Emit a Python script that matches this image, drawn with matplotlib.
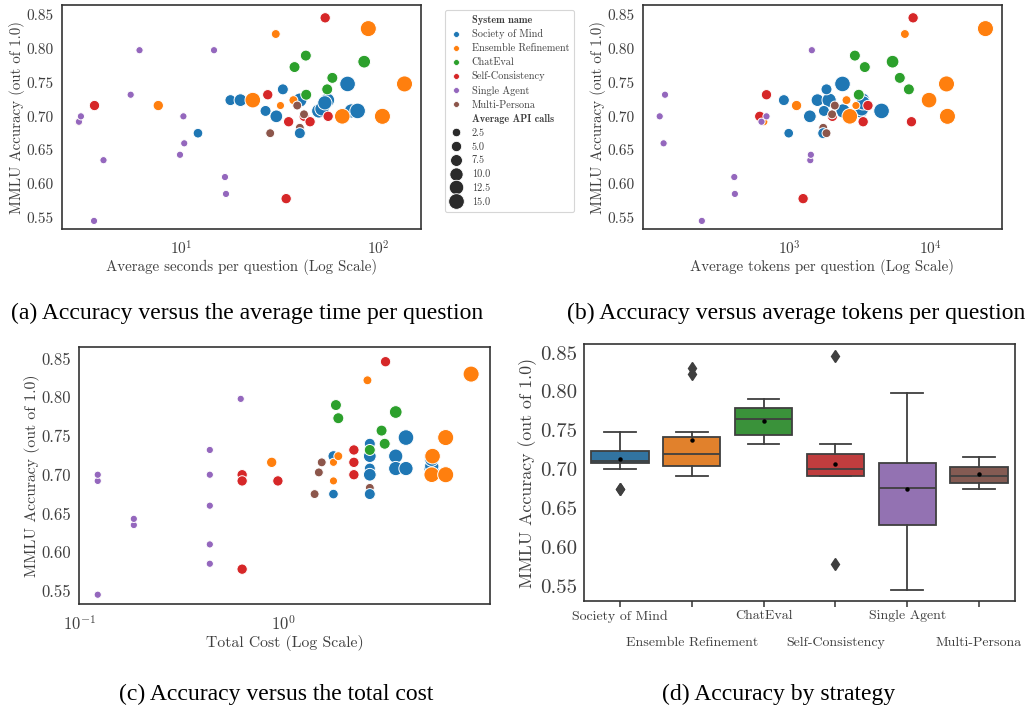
import colorsys
import matplotlib
matplotlib.use('Agg')
import matplotlib.pyplot as plt
import matplotlib.colors as mcolors
from matplotlib.lines import Line2D

SYSTEMS = ['Society of Mind', 'Ensemble Refinement', 'ChatEval',
           'Self-Consistency', 'Single Agent', 'Multi-Persona']
COLORS = ['#1f77b4', '#ff7f0e', '#2ca02c', '#d62728', '#9467bd', '#8c564b']

# one entry per run, drawn in this order
run_system = [5, 5,
              0, 0, 0, 0, 0, 0, 0, 0, 0, 0, 0, 0, 0, 0, 0,
              1, 1, 1, 1, 1, 1, 1, 1, 1, 1,
              2, 2, 2, 2, 2, 2,
              3, 3, 3, 3, 3, 3, 3, 3,
              4, 4, 4, 4, 4, 4, 4, 4, 4, 4, 4, 4,
              5, 5, 5]
run_acc = [0.691, 0.683,
           0.675, 0.675, 0.724, 0.724, 0.724, 0.724, 0.708, 0.708, 0.708, 0.708, 0.700, 0.740, 0.748, 0.711, 0.720,
           0.692, 0.716, 0.716, 0.724, 0.724, 0.822, 0.700, 0.700, 0.748, 0.830,
           0.773, 0.790, 0.732, 0.740, 0.757, 0.781,
           0.846, 0.578, 0.716, 0.732, 0.700, 0.700, 0.692, 0.692,
           0.692, 0.700, 0.798, 0.732, 0.545, 0.635, 0.700, 0.660, 0.643, 0.798, 0.610, 0.585,
           0.675, 0.703, 0.716]
run_secs = [35, 39.9,
            12.1, 39.9, 17.7, 19.9, 39.9, 55.2, 26.7, 49.8, 73, 78.5, 30.3, 32.7, 69.8, 51.7, 53.5,
            3.0, 7.6, 31.8, 37, 23, 30.1, 65.6, 105, 136, 89,
            37.5, 42.8, 43, 55, 58.4, 84.8,
            53.7, 34, 3.6, 27.4, 55.6, 42, 35, 45,
            3.0, 3.07, 6.1, 5.5, 3.58, 4.0, 10.2, 10.3, 9.8, 14.6, 16.6, 16.8,
            28.2, 41.9, 38.7]
run_tokens = [3330, 1740,
              993, 1740, 918, 1585, 1915, 3300, 1760, 2400, 3200, 4490, 1400, 1835, 2380, 3250, 3320,
              663, 1128, 2960, 2540, 9720, 6560, 2680, 13100, 12900, 24300,
              3420, 2910, 3100, 7000, 6040, 5370,
              7500, 1255, 3600, 692, 620, 2020, 3330, 7300,
              638, 692, 1446, 133, 242, 1410, 122, 130, 1423, 1446, 410, 414,
              1835, 2010, 2100]
run_cost = [0.63, 2.67,
            1.77, 2.67, 1.77, 2.67, 3.58, 5.38, 2.67, 3.58, 4.02, 5.38, 2.67, 2.67, 4.02, 5.38, 5.38,
            1.77, 0.88, 1.77, 1.87, 5.43, 2.6, 5.38, 6.3, 6.3, 8.4,
            1.87, 1.82, 2.67, 3.16, 3.05, 3.58,
            3.19, 0.63, 2.23, 2.23, 0.63, 2.23, 0.63, 0.944,
            0.123, 0.123, 0.62, 0.437, 0.123, 0.185, 0.437, 0.437, 0.185, 0.62, 0.437, 0.437,
            1.43, 1.5, 1.55]
run_calls = [3, 3,
             4, 6, 6, 9, 12, 12, 6, 12, 12, 15, 9, 6, 15, 12, 12,
             2, 5, 2, 3, 15, 3, 15, 16, 16, 16,
             6, 6, 6, 6, 6, 9,
             5, 5, 5, 5, 5, 5, 5, 5,
             1, 1, 1, 1, 1, 1, 1, 1, 1, 1, 1, 1,
             3, 3, 3]
size_legend = [2.5, 5.0, 7.5, 10.0, 12.5, 15.0]

TXT = '#3f3f3f'
plt.rcParams['font.family'] = ['cmr10', 'DejaVu Serif']
plt.rcParams['mathtext.fontset'] = 'cm'
plt.rcParams['axes.formatter.use_mathtext'] = True
plt.rcParams['text.color'] = TXT
plt.rcParams['axes.labelcolor'] = TXT
plt.rcParams['xtick.color'] = TXT
plt.rcParams['ytick.color'] = TXT

YTICKS = [0.55, 0.60, 0.65, 0.70, 0.75, 0.80, 0.85]


def marker_area(calls):
    return 1.45 * (13.7 + 4.9 * calls)


def desat(c, p=0.75):
    h, l, s = colorsys.rgb_to_hls(*mcolors.to_rgb(c))
    return colorsys.hls_to_rgb(h, l, s * p)


def style_axes(ax, tick_size, label_size):
    for sp in ax.spines.values():
        sp.set_color('#333333')
        sp.set_linewidth(1.2)
    ax.tick_params(axis='both', length=0, pad=6, labelsize=tick_size)
    ax.tick_params(axis='both', which='minor', length=0)
    ax.yaxis.label.set_size(label_size)
    ax.xaxis.label.set_size(label_size)


def scatter_panel(ax, xs, xlim, xticks, xlabel, tick_size, label_size):
    colors = [COLORS[i] for i in run_system]
    sizes = [marker_area(c) for c in run_calls]
    ax.scatter(xs, run_acc, s=sizes, c=colors, edgecolors='white', linewidths=0.7)
    ax.set_xscale('log')
    ax.set_xticks(xticks)
    ax.set_xlim(*xlim)
    ax.set_ylim(0.533, 0.865)
    ax.set_yticks(YTICKS)
    ax.set_yticklabels(['%.2f' % v for v in YTICKS])
    ax.set_ylabel('MMLU Accuracy (out of 1.0)', labelpad=1)
    ax.set_xlabel(xlabel, labelpad=1)
    style_axes(ax, tick_size, label_size)
    ax.tick_params(axis='x', pad=7.5)


W, H = 1034, 713
fig = plt.figure(figsize=(W / 100, H / 100), dpi=100)


def px_axes(l, t, r, b):
    return fig.add_axes([l / W, 1 - b / H, (r - l) / W, (b - t) / H])


ax_a = px_axes(62, 5, 421, 229)
ax_b = px_axes(643, 5, 1002, 229)
ax_c = px_axes(79, 347, 490, 604)
ax_d = px_axes(584, 344, 1015, 601)

scatter_panel(ax_a, run_secs, (2.46, 165), [10, 100],
              'Average seconds per question (Log Scale)', 11, 10.8)
scatter_panel(ax_b, run_tokens, (93, 31800), [1000, 10000],
              'Average tokens per question (Log Scale)', 11, 10.8)
scatter_panel(ax_c, run_cost, (0.0995, 10.4), [0.1, 1],
              'Total Cost (Log Scale)', 12, 11.3)

# legend for (a)
handles, labels = [], []
handles.append(Line2D([], [], linestyle='none'))
labels.append('System name')
for name, col in zip(SYSTEMS, COLORS):
    handles.append(Line2D([], [], linestyle='none', marker='o', ms=4.2,
                          markerfacecolor=col, markeredgecolor='white', markeredgewidth=0.5))
    labels.append(name)
handles.append(Line2D([], [], linestyle='none'))
labels.append('Average API calls')
for v in size_legend:
    handles.append(Line2D([], [], linestyle='none', marker='o', ms=marker_area(v) ** 0.5,
                          markerfacecolor='#2b2b2b', markeredgecolor='white', markeredgewidth=0.6))
    labels.append('%.1f' % v)
leg = fig.legend(handles, labels, loc='upper left', bbox_to_anchor=(445 / W, 1 - 10 / H),
                 fontsize=7.4, frameon=True, fancybox=True, labelspacing=0.42,
                 handlelength=1.2, handletextpad=0.9, borderpad=0.5, borderaxespad=0)
leg.get_frame().set_edgecolor('#cccccc')
leg.get_frame().set_linewidth(0.8)
for t in leg.get_texts():
    if t.get_text() in ('System name', 'Average API calls'):
        t.set_fontfamily(['cmb10', 'DejaVu Serif'])

# (d) box plot
groups = [[a for s, a in zip(run_system, run_acc) if s == i] for i in range(len(SYSTEMS))]
line_col = '#3f3f3f'
bp = ax_d.boxplot(groups, positions=range(len(SYSTEMS)), widths=0.8, patch_artist=True,
                  showmeans=True, whis=1.5,
                  medianprops=dict(color=line_col, linewidth=1.3),
                  whiskerprops=dict(color=line_col, linewidth=1.3),
                  capprops=dict(color=line_col, linewidth=1.3),
                  boxprops=dict(edgecolor=line_col, linewidth=1.3),
                  meanprops=dict(marker='o', markerfacecolor='black', markeredgecolor='black', markersize=2.2),
                  flierprops=dict(marker='d', markerfacecolor=line_col, markeredgecolor=line_col, markersize=6))
for patch, col in zip(bp['boxes'], COLORS):
    patch.set_facecolor(desat(col))
for cap in bp['caps']:
    x0, x1 = cap.get_xdata()
    c = (x0 + x1) / 2
    cap.set_xdata([c - 0.22, c + 0.22])
ax_d.set_xlim(-0.5, 5.5)
ax_d.set_ylim(0.531, 0.861)
ax_d.set_yticks(YTICKS)
ax_d.set_yticklabels(['%.2f' % v for v in YTICKS])
ax_d.set_xticks(range(len(SYSTEMS)))
ax_d.set_xticklabels(SYSTEMS)
ax_d.set_ylabel('MMLU Accuracy (out of 1.0)', labelpad=2)
style_axes(ax_d, 15, 12.8)
ax_d.tick_params(axis='x', length=4, width=1.1, color='#333333', labelsize=10, pad=2.5)
ax_d.tick_params(axis='y', pad=5)
# stagger the category names on two rows
for i, tick in enumerate(ax_d.xaxis.get_major_ticks()):
    if i % 2 == 1:
        tick.set_pad(21.5)

cap_font = dict(family='Liberation Serif', size=17, color='black', ha='center', va='center')
fig.text(247 / W, 1 - 313 / H, '(a) Accuracy versus the average time per question', **cap_font)
fig.text(796 / W, 1 - 313 / H, '(b) Accuracy versus average tokens per question', **cap_font)
fig.text(276 / W, 1 - 694 / H, '(c) Accuracy versus the total cost', **cap_font)
fig.text(779 / W, 1 - 694 / H, '(d) Accuracy by strategy', **cap_font)

fig.savefig('out.png', dpi=100, facecolor='white')
